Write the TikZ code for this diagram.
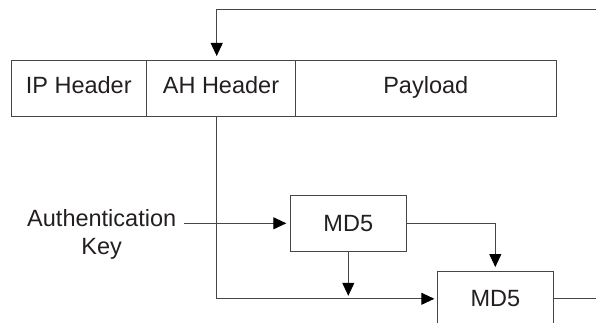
\documentclass[tikz,border=0pt]{standalone}
\usepackage{fontspec}
\setmainfont{Liberation Sans}
\usetikzlibrary{arrows.meta,positioning}

\begin{document}
\begin{tikzpicture}[x=1pt,y=1pt,
  font=\fontsize{23.5}{28}\selectfont,
  field/.style={draw=drawColor,line width=0.9pt,minimum height=56pt,text height=17pt,text depth=5pt,inner sep=0pt,outer sep=0pt,text=textColor},
  hashbox/.style={draw=drawColor,line width=0.9pt,minimum width=116pt,minimum height=55.5pt,inner sep=0pt,outer sep=0pt,text=textColor},
  wire/.style={draw=drawColor,line width=0.9pt},
  feed/.style={wire,-{Triangle[length=13pt,width=12pt,color=black]},shorten >=4pt}]
\definecolor{drawColor}{RGB}{70,70,70}
\definecolor{textColor}{RGB}{35,31,32}
\path[use as bounding box] (0,0) rectangle (596,323);
\clip (0,0) rectangle (596,323);

% packet
\node[field,minimum width=135.5pt] (ip) at (78.75,235) {IP Header};
\node[field,minimum width=149pt,right=0pt of ip] (ah) {AH Header};
\node[field,minimum width=260.5pt,right=0pt of ah] (payload) {Payload};

% hash stages
\node[hashbox] (md5a) at (348.3,99.7) {MD5};
\node[hashbox] (md5b) at (495.3,24.2) {MD5};
\node[align=center,text=textColor,inner sep=0pt,outer sep=8pt] (key) at (101.7,89) {Authentication\\Key};

\coordinate (fb) at (596,314);
\coordinate (out) at (596,24.2);

% connectors
\draw[feed] (fb) -| ([xshift=-4.3pt]ah.north);
\draw[feed,shorten >=3pt] ([xshift=-4.3pt]ah.south) |- (md5b.west);
\draw[feed] (key.east |- md5a.west) -- (md5a.west);
\draw[feed] (md5a.east) -| (md5b.north);
\draw[feed,shorten >=3pt] (md5a.south) -- (md5a.south |- md5b.west);
\draw[wire] (md5b.east) -- (out);
\end{tikzpicture}
\end{document}
